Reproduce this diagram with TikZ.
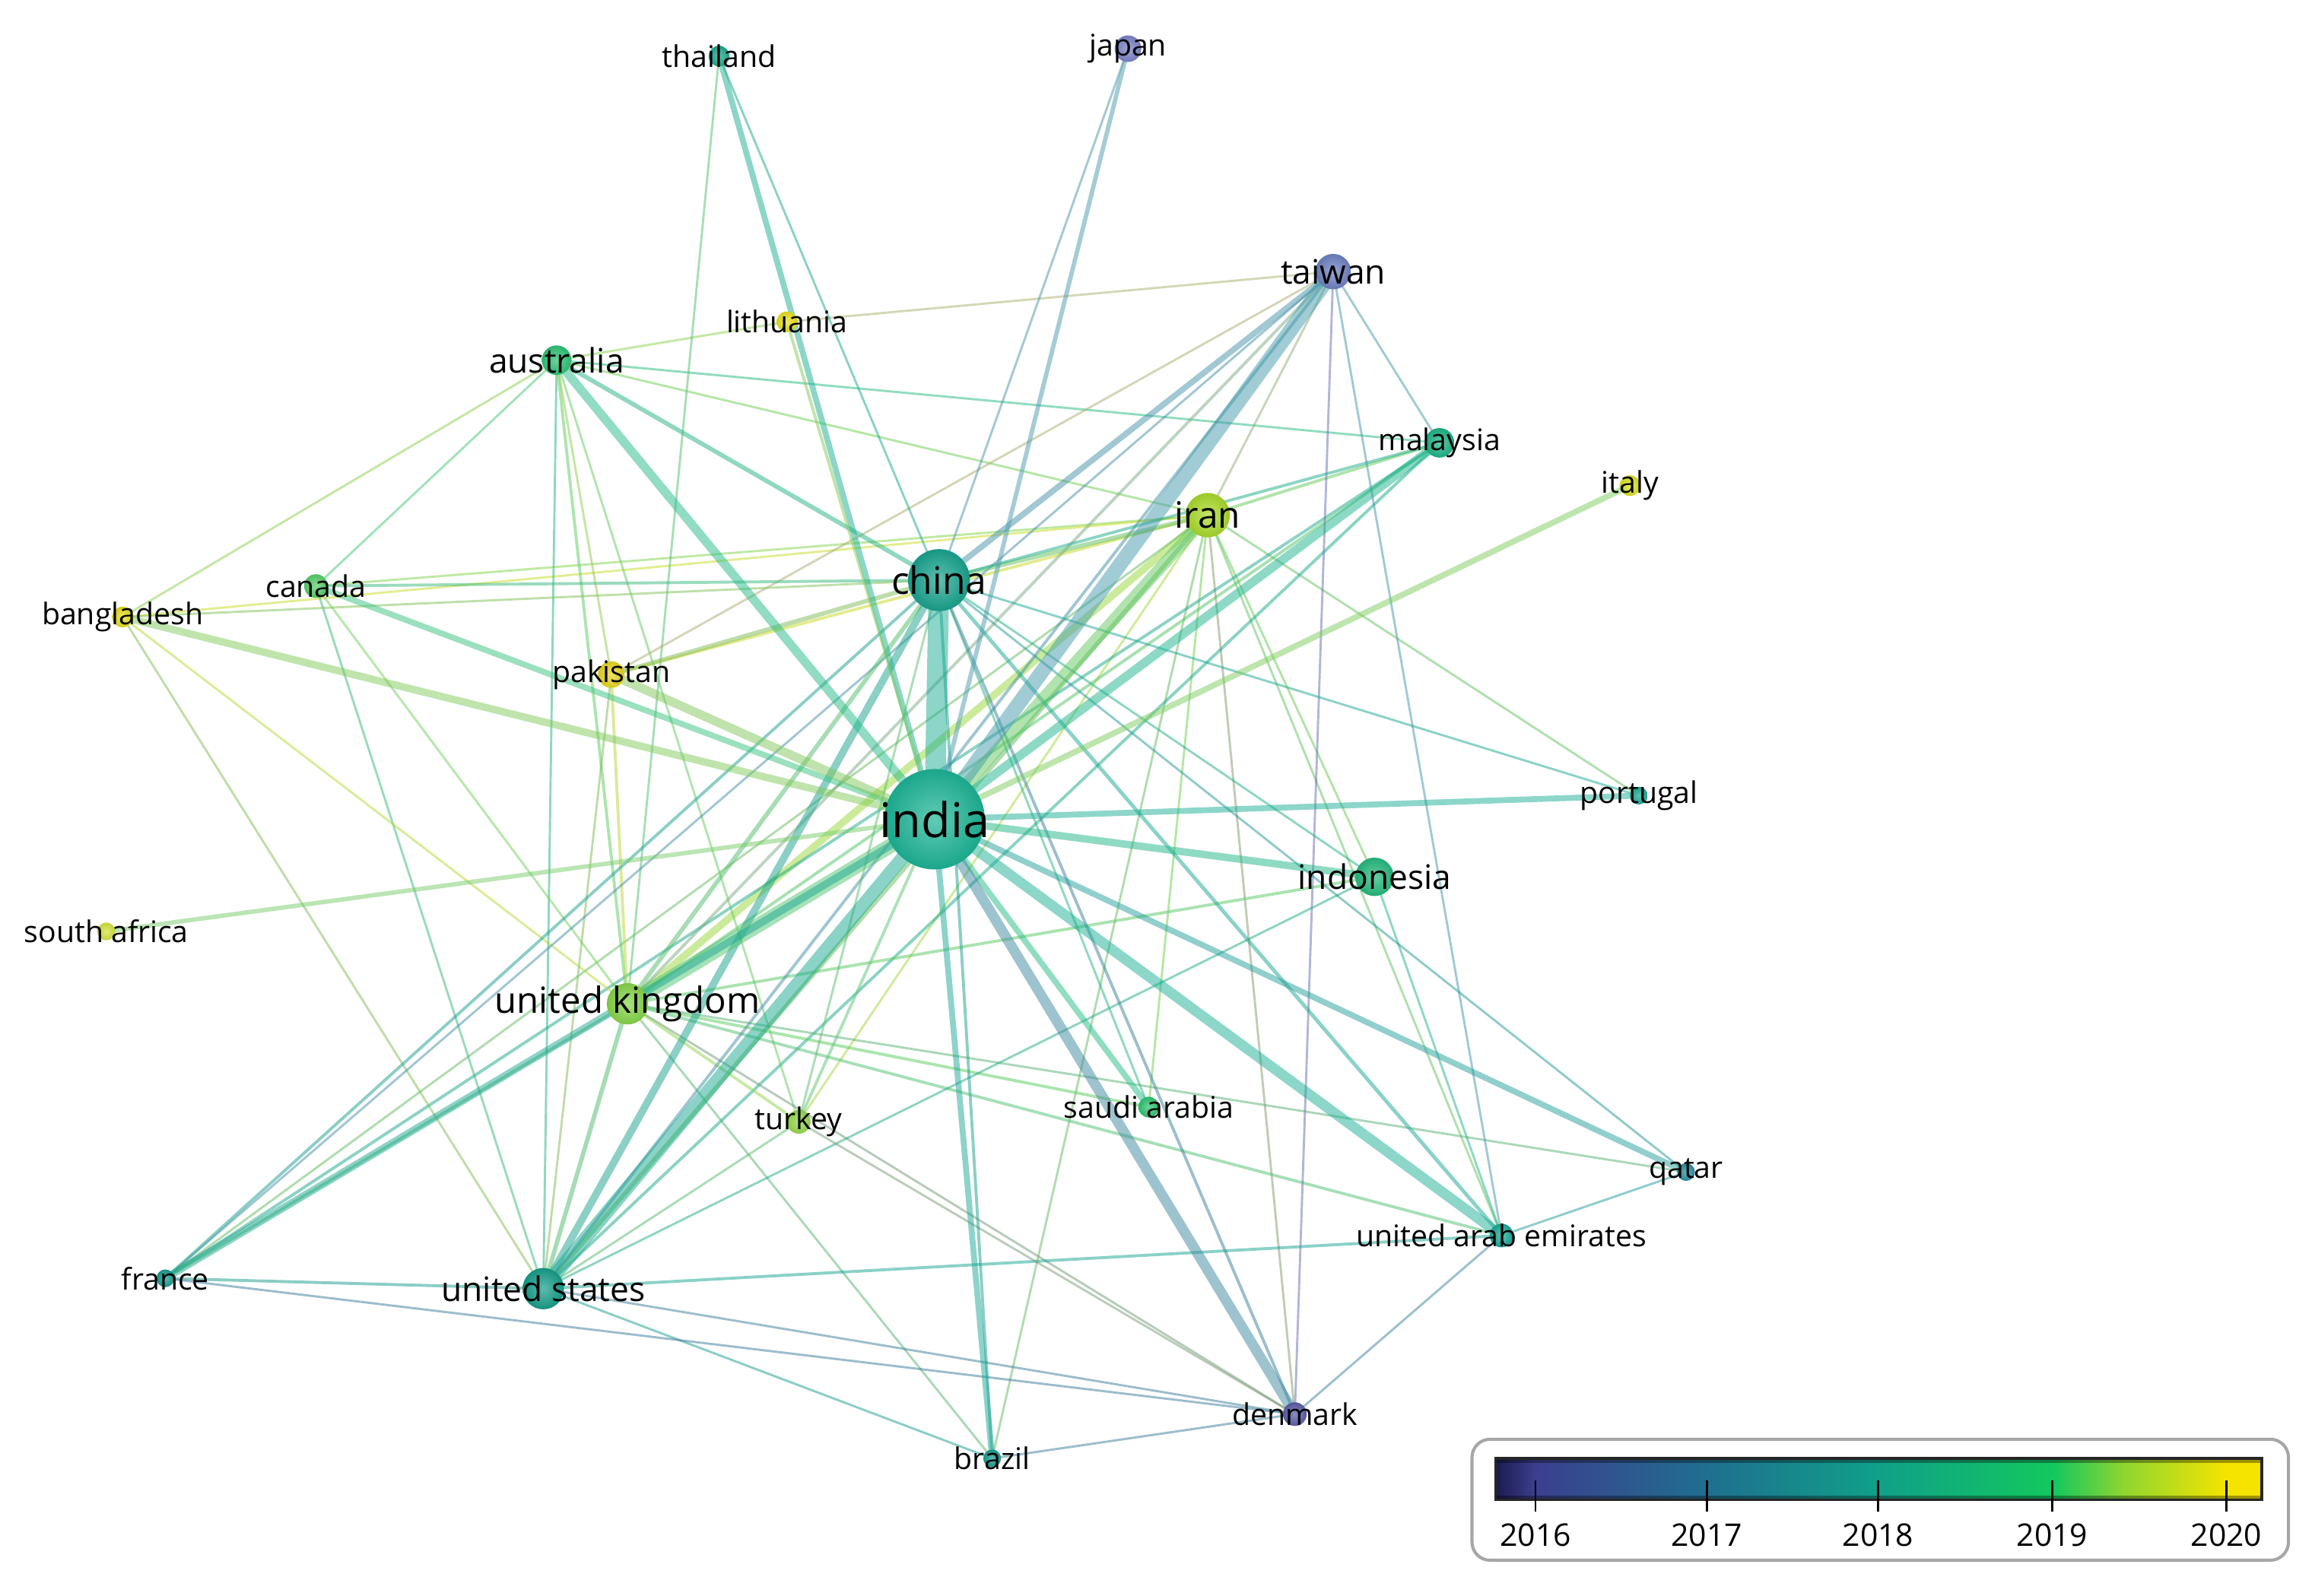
\documentclass[tikz,border=0pt]{standalone}
\usepackage{fontspec}
\setmainfont{Open Sans}
\definecolor{cIN}{HTML}{1DB597}
\definecolor{cCN}{HTML}{19A48F}
\definecolor{cIR}{HTML}{AADB2A}
\definecolor{cUK}{HTML}{86D648}
\definecolor{cUS}{HTML}{179E8A}
\definecolor{cID}{HTML}{25BA7C}
\definecolor{cTW}{HTML}{6E81C2}
\definecolor{cAU}{HTML}{2EC275}
\definecolor{cMY}{HTML}{1BB587}
\definecolor{cJP}{HTML}{7B82C6}
\definecolor{cTH}{HTML}{1BAA8C}
\definecolor{cLT}{HTML}{E8E21B}
\definecolor{cIT}{HTML}{DDE323}
\definecolor{cCA}{HTML}{55CF6A}
\definecolor{cBD}{HTML}{E4DF1E}
\definecolor{cPK}{HTML}{E9D71F}
\definecolor{cPT}{HTML}{1AAA95}
\definecolor{cZA}{HTML}{D2E33C}
\definecolor{cTR}{HTML}{97D84C}
\definecolor{cSA}{HTML}{2DC572}
\definecolor{cQA}{HTML}{2A8CA0}
\definecolor{cAE}{HTML}{17AA98}
\definecolor{cFR}{HTML}{1A9B8F}
\definecolor{cDK}{HTML}{5C5CA6}
\definecolor{cBR}{HTML}{1A9C90}
\definecolor{lgA}{HTML}{1B1A4E}
\definecolor{lgB}{HTML}{3C3F8E}
\definecolor{lgC}{HTML}{1F6F90}
\definecolor{lgD}{HTML}{10A088}
\definecolor{lgE}{HTML}{12C85E}
\definecolor{lgF}{HTML}{8FD630}
\definecolor{lgG}{HTML}{F4E400}
\pgfdeclarehorizontalshading{vbar}{100bp}{color(0bp)=(lgA); color(25bp)=(lgA); color(27.6bp)=(lgB); color(38.8bp)=(lgC); color(50bp)=(lgD); color(61.4bp)=(lgE); color(66bp)=(lgF); color(72.7bp)=(lgG); color(75bp)=(lgG); color(100bp)=(lgG)}
\newcommand\E[3]{\draw[edge, line width=#3*0.567pt, draw=c#1!50!c#2] (#1) -- (#2);}
\newcommand\Ball[2]{\shade[inner color=c#1!70!white, outer color=c#1!92!black] (#1) circle[radius=#2];}
\begin{document}
\begin{tikzpicture}[x=0.02cm, y=-0.02cm,
  edge/.style={draw opacity=0.5, line cap=round},
  lab/.style={inner sep=0pt, text=black, font=\fontsize{11.5}{12}\selectfont},
  labm/.style={lab, font=\fontsize{13}{14}\selectfont},
  tick/.style={black, line width=0.8pt}]
\useasboundingbox (0,0) rectangle (1568,1081);
\fill[white] (0,0) rectangle (1568,1081);
% node positions
\coordinate (IN) at (633,555);
\coordinate (CN) at (636,393);
\coordinate (IR) at (818,349);
\coordinate (UK) at (425,680);
\coordinate (US) at (368,873);
\coordinate (ID) at (931,594);
\coordinate (TW) at (903,184);
\coordinate (AU) at (377,244);
\coordinate (MY) at (975,300);
\coordinate (JP) at (764,33);
\coordinate (TH) at (487,38);
\coordinate (LT) at (533,218);
\coordinate (IT) at (1104,329);
\coordinate (CA) at (214,397);
\coordinate (BD) at (83,418);
\coordinate (PK) at (414,457);
\coordinate (PT) at (1110,539);
\coordinate (ZA) at (72,631);
\coordinate (TR) at (541,760);
\coordinate (SA) at (778,750);
\coordinate (QA) at (1142,794);
\coordinate (AE) at (1017,837);
\coordinate (FR) at (112,866);
\coordinate (DK) at (877,958);
\coordinate (BR) at (672,988);
% edges
\E{IR}{UK}{5}\E{IR}{US}{3}\E{IR}{PK}{2}\E{IR}{CA}{1.5}\E{IR}{AU}{1.5}\E{IR}{MY}{2}
\E{IR}{ID}{1.5}\E{IR}{SA}{1.5}\E{IR}{TR}{1.5}\E{IR}{AE}{1.5}\E{IR}{PT}{1.5}\E{IR}{DK}{1.5}
\E{IR}{BR}{1.5}\E{IR}{BD}{1.5}\E{IR}{FR}{1.5}
\E{MY}{UK}{2}\E{MY}{US}{2}\E{MY}{FR}{2}
\E{AU}{LT}{1.5}\E{AU}{BD}{1.5}\E{AU}{CA}{1.5}\E{AU}{US}{1.5}\E{AU}{UK}{2}\E{AU}{PK}{1.5}
\E{AU}{MY}{1.5}\E{AU}{TR}{1.5}
\E{CA}{US}{1.5}\E{CA}{UK}{1.5}\E{BD}{UK}{1.5}\E{BD}{US}{1.5}\E{TH}{UK}{1.5}
\E{PK}{UK}{2}\E{PK}{US}{1.5}
\E{UK}{US}{3}\E{UK}{FR}{2}\E{UK}{TR}{2}\E{UK}{SA}{2}\E{UK}{ID}{2}\E{UK}{AE}{2}
\E{UK}{QA}{1.5}\E{UK}{BR}{1.5}\E{UK}{DK}{1.5}
\E{US}{FR}{2}\E{US}{AE}{2}\E{US}{DK}{1.5}\E{US}{BR}{1.5}\E{US}{ID}{1.5}\E{US}{TR}{1.5}
\E{FR}{DK}{1.5}\E{TR}{DK}{1.5}\E{AE}{QA}{1.5}\E{AE}{DK}{1.5}\E{BR}{DK}{1.5}\E{ID}{AE}{1.5}
\E{TW}{LT}{1.5}\E{TW}{PK}{1.5}\E{TW}{UK}{2}\E{TW}{US}{2}\E{TW}{FR}{1.5}\E{TW}{IR}{1.5}
\E{TW}{MY}{1.5}\E{TW}{DK}{1.5}\E{TW}{AE}{1.5}
\E{CN}{TW}{4}\E{CN}{JP}{1.5}\E{CN}{TH}{1.5}\E{CN}{AU}{3}\E{CN}{CA}{2}\E{CN}{BD}{1.5}
\E{CN}{PK}{3}\E{CN}{IR}{3}\E{CN}{MY}{2}\E{CN}{PT}{1.5}\E{CN}{ID}{1.5}\E{CN}{UK}{3}
\E{CN}{US}{5}\E{CN}{FR}{2}\E{CN}{AE}{2.5}\E{CN}{QA}{1.5}\E{CN}{SA}{1.5}\E{CN}{TR}{1.5}
\E{CN}{BR}{2}\E{CN}{DK}{2}
\E{IN}{CN}{14}\E{IN}{IR}{8}\E{IN}{UK}{10}\E{IN}{US}{9}\E{IN}{ID}{5}\E{IN}{TW}{10}
\E{IN}{AU}{6}\E{IN}{MY}{6}\E{IN}{JP}{3}\E{IN}{TH}{4}\E{IN}{LT}{2}\E{IN}{IT}{4}
\E{IN}{CA}{4}\E{IN}{BD}{5}\E{IN}{PK}{6}\E{IN}{PT}{4}\E{IN}{ZA}{3}\E{IN}{TR}{2}
\E{IN}{SA}{4}\E{IN}{QA}{4}\E{IN}{AE}{7}\E{IN}{FR}{5}\E{IN}{DK}{7}\E{IN}{BR}{4}
% nodes
\Ball{IN}{34}\Ball{CN}{21}\Ball{IR}{15}\Ball{UK}{14}\Ball{US}{14}\Ball{ID}{13}
\Ball{TW}{12}\Ball{AU}{10}\Ball{MY}{10}\Ball{JP}{9}\Ball{TH}{7}\Ball{LT}{7}
\Ball{IT}{7}\Ball{CA}{8}\Ball{BD}{7}\Ball{PK}{9}\Ball{PT}{6}\Ball{ZA}{6}
\Ball{TR}{8}\Ball{SA}{7}\Ball{QA}{6}\Ball{AE}{8}\Ball{FR}{6}\Ball{DK}{8}\Ball{BR}{6}
% labels
\node[lab, font=\fontsize{18.5}{20}\selectfont] (INl) at (IN) {india};
\node[lab, font=\fontsize{14.6}{16}\selectfont] (CNl) at (CN) {china};
\node[lab, font=\fontsize{14}{15}\selectfont] (IRl) at (IR) {iran};
\node[lab, font=\fontsize{13.9}{15}\selectfont] (UKl) at (UK) {united kingdom};
\node[labm] (USl) at (US) {united states};
\node[labm] (IDl) at (ID) {indonesia};
\node[labm] (TWl) at (TW) {taiwan};
\node[labm] (AUl) at (AU) {australia};
\node[lab] (MYl) at (MY) {malaysia};
\node[lab] (JPl) at (JP) {japan};
\node[lab] (THl) at (TH) {thailand};
\node[lab] (LTl) at (LT) {lithuania};
\node[lab] (ITl) at (IT) {italy};
\node[lab] (CAl) at (CA) {canada};
\node[lab] (BDl) at (BD) {bangladesh};
\node[lab] (PKl) at (PK) {pakistan};
\node[lab] (PTl) at (PT) {portugal};
\node[lab] (ZAl) at (ZA) {south africa};
\node[lab] (TRl) at (TR) {turkey};
\node[lab] (SAl) at (SA) {saudi arabia};
\node[lab] (QAl) at (QA) {qatar};
\node[lab] (AEl) at (AE) {united arab emirates};
\node[lab] (FRl) at (FR) {france};
\node[lab] (DKl) at (DK) {denmark};
\node[lab] (BRl) at (BR) {brazil};
% legend
\draw[gray!70, line width=1.2pt, rounded corners=7pt] (997,975) rectangle (1550,1057);
\shade[shading=vbar] (1013,988) rectangle (1532,1016);
\fill[black, opacity=0.35] (1013,988) rectangle (1532,991);
\fill[black, opacity=0.35] (1013,1013) rectangle (1532,1016);
\draw[black!85, line width=1pt] (1013,988) rectangle (1532,1016);
\foreach \x/\y in {1040/2016,1156/2017,1272/2018,1390/2019,1508/2020}{
  \draw[tick] (\x,1003) -- (\x,1024);
  \node[lab, font=\fontsize{12}{13}\selectfont] (yr\y) at (\x,1040) {\y};
}
\end{tikzpicture}
\end{document}
